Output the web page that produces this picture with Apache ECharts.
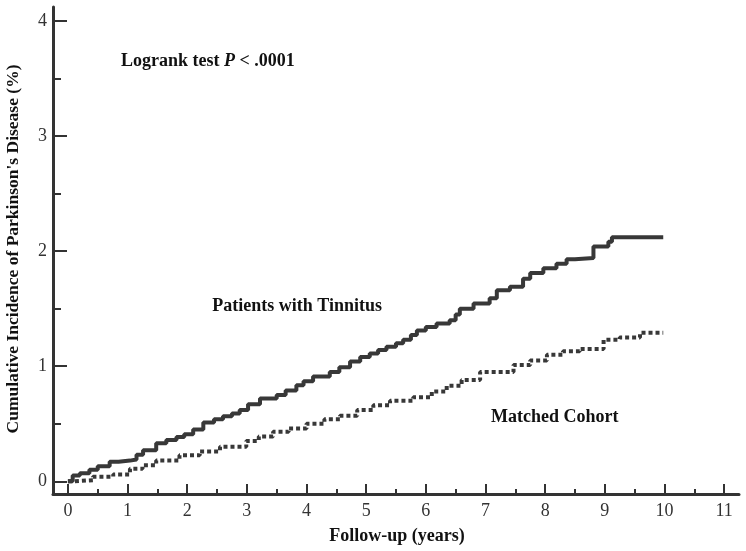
<!DOCTYPE html>
<html>
<head>
<meta charset="utf-8">
<script src="https://cdn.jsdelivr.net/npm/echarts@6/dist/echarts.min.js"></script>
<style>
html,body{margin:0;padding:0;background:#fff;}
#chart{width:746px;height:551px;}
</style>
</head>
<body>
<div id="chart"></div>
<script>
// Tick labels
const xTickLabels = [0,1,2,3,4,5,6,7,8,9,10,11];
const xMinorTicks = [0.5,1.5,2.5,3.5,4.5,5.5,6.5,7.5,8.5,9.5,10.5];
const yTickLabels = [0,1,2,3,4];
const yMinorTicks = [0.5,1.5,2.5,3.5];

// Patients with Tinnitus (step curve)
const tinnitusYears = [0,0.08,0.2,0.36,0.5,0.7,0.85,1.04,1.15,1.26,1.48,1.65,1.82,1.95,2.1,2.27,2.45,2.6,2.75,2.88,3.02,3.22,3.5,3.65,3.83,3.95,4.11,4.39,4.55,4.73,4.9,5.06,5.2,5.34,5.5,5.62,5.75,5.85,6.0,6.18,6.4,6.5,6.57,6.8,7.07,7.19,7.41,7.63,7.75,7.97,8.19,8.36,8.5,8.81,9.06,9.12,9.98];
const tinnitusIncidence = [0,0.05,0.07,0.10,0.13,0.17,0.18,0.19,0.23,0.27,0.33,0.36,0.385,0.41,0.45,0.51,0.54,0.565,0.59,0.62,0.67,0.72,0.75,0.79,0.835,0.87,0.91,0.95,0.99,1.04,1.08,1.11,1.14,1.17,1.20,1.23,1.27,1.31,1.34,1.37,1.40,1.45,1.50,1.545,1.59,1.66,1.69,1.76,1.81,1.85,1.89,1.93,1.94,2.04,2.08,2.12,2.12];

// Matched Cohort (step curve)
const matchedYears = [0,0.08,0.42,0.76,1.04,1.25,1.48,1.87,2.21,2.55,2.99,3.2,3.44,3.7,4.0,4.3,4.56,4.85,5.12,5.4,5.79,6.1,6.35,6.6,6.91,7.47,7.75,8.03,8.3,8.58,8.98,9.25,9.59,9.98];
const matchedIncidence = [0,0.01,0.04,0.06,0.11,0.14,0.18,0.226,0.26,0.30,0.35,0.39,0.43,0.46,0.50,0.54,0.57,0.62,0.66,0.70,0.73,0.78,0.83,0.88,0.95,1.01,1.05,1.10,1.13,1.15,1.23,1.25,1.29,1.29];

const zip = (a, b) => a.map((v, i) => [v, b[i]]);
const serif = '"Liberation Serif", "DejaVu Serif", serif';
const axisColor = '#333';

const chart = echarts.init(document.getElementById('chart'), null, {renderer: 'canvas'});
chart.setOption({
  animation: false,
  backgroundColor: '#fff',
  grid: {left: 53, right: 7, top: 7, bottom: 57, containLabel: false},
  xAxis: [
    {
      type: 'value', min: -0.25, max: 11.25,
      axisLine: {show: true, onZero: false, lineStyle: {color: axisColor, width: 3}},
      axisTick: {show: true, inside: true, length: 10, customValues: xTickLabels, lineStyle: {color: axisColor, width: 2}},
      axisLabel: {show: true, customValues: xTickLabels, margin: 8, color: '#333', fontFamily: serif, fontSize: 18},
      splitLine: {show: false}
    },
    {
      type: 'value', min: -0.25, max: 11.25, position: 'bottom', offset: 0,
      axisLine: {show: false, onZero: false},
      axisTick: {show: true, inside: true, length: 5, customValues: xMinorTicks, lineStyle: {color: axisColor, width: 2}},
      axisLabel: {show: false},
      splitLine: {show: false}
    }
  ],
  yAxis: [
    {
      type: 'value', min: -0.11, max: 4.12,
      axisLine: {show: true, onZero: false, lineStyle: {color: axisColor, width: 3}},
      axisTick: {show: true, inside: true, length: 14, customValues: yTickLabels, lineStyle: {color: axisColor, width: 2}},
      axisLabel: {show: true, customValues: yTickLabels, margin: 6, color: '#333', fontFamily: serif, fontSize: 18},
      splitLine: {show: false}
    },
    {
      type: 'value', min: -0.11, max: 4.12, position: 'left', offset: 0,
      axisLine: {show: false, onZero: false},
      axisTick: {show: true, inside: true, length: 8, customValues: yMinorTicks, lineStyle: {color: axisColor, width: 2}},
      axisLabel: {show: false},
      splitLine: {show: false}
    }
  ],
  series: [
    {
      name: 'Patients with Tinnitus', type: 'line', step: 'end',
      data: zip(tinnitusYears, tinnitusIncidence),
      showSymbol: false, symbol: 'none',
      lineStyle: {color: '#383838', width: 4}
    },
    {
      name: 'Matched Cohort', type: 'line', step: 'end',
      data: zip(matchedYears, matchedIncidence),
      showSymbol: false, symbol: 'none',
      lineStyle: {color: '#383838', width: 4, type: [4, 3], cap: 'butt'}
    }
  ],
  graphic: [
    {
      type: 'text', left: 121, top: 52,
      style: {
        text: 'Logrank test {i|P} < .0001',
        font: 'bold 18px ' + serif, fill: '#111',
        rich: {i: {fontStyle: 'italic', fontWeight: 'bold', fontSize: 18, fontFamily: serif, fill: '#111'}}
      }
    },
    {
      type: 'text', right: 746 - 382, top: 297,
      style: {text: 'Patients with Tinnitus', font: 'bold 18px ' + serif, fill: '#111'}
    },
    {
      type: 'text', left: 491, top: 408,
      style: {text: 'Matched Cohort', font: 'bold 18px ' + serif, fill: '#111'}
    },
    {
      type: 'text', x: 397, y: 536,
      style: {text: 'Follow-up (years)', font: 'bold 18px ' + serif, fill: '#111', align: 'center', verticalAlign: 'middle'}
    },
    {
      type: 'text', x: 13, y: 249, rotation: Math.PI / 2,
      style: {text: "Cumulative Incidence of Parkinson's Disease (%)", font: 'bold 17.5px ' + serif, fill: '#111', align: 'center', verticalAlign: 'middle'}
    }
  ]
});
</script>
</body>
</html>
